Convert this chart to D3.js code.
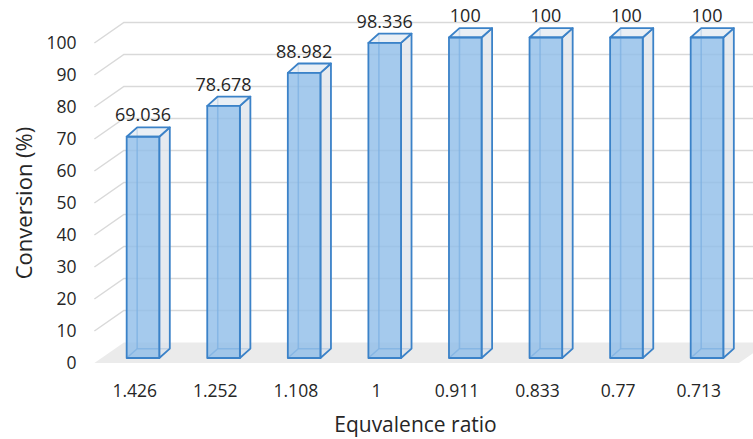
<!DOCTYPE html>
<html>
<head>
<meta charset="utf-8">
<script src="https://cdn.jsdelivr.net/npm/d3@7"></script>
<style>
  html, body { margin: 0; padding: 0; background: #ffffff; }
  svg { display: block; }
  text { font-family: "Open Sans", "Noto Sans", sans-serif; fill: #262626; }
</style>
</head>
<body>
<svg id="chart" width="753" height="439"></svg>
<script>
// Conversion versus equivalence ratio
const categories = ["1.426", "1.252", "1.108", "1", "0.911", "0.833", "0.77", "0.713"];
const conversion = [69.036, 78.678, 88.982, 98.336, 100, 100, 100, 100];
const yTicks = [0, 10, 20, 30, 40, 50, 60, 70, 80, 90, 100];

const W = 753, H = 439;
const svg = d3.select("#chart");

// Pseudo-3D layout: front plane of the floor, plus depth offsets
const floorDepth = { dx: 29.5, dy: -20.5 };   // full floor depth
const barDepth = { dx: 10.5, dy: -9.3 };      // depth of each column
const barShift = { dx: 8.3, dy: -5 };         // column front face relative to floor front
const barWidthFrac = 0.405;

const x = d3.scaleBand().domain(categories).range([94.4, 739]).padding(0);
// value scale along the front edge of the side wall (tick labels sit here)
const yFront = d3.scaleLinear().domain([0, 100]).range([363, 43]);
// value scale for the column front faces
const yBar = d3.scaleLinear().domain([0, 100]).range([yFront(0) + barShift.dy, yFront(0) + barShift.dy - 320.5]);

const gridColor = "#d9d9d9";
const floorColor = "#ebebeb";

// Floor
const fl = x.range()[0], fr = x.range()[1], fy = yFront(0);
svg.append("path")
  .attr("d", d3.line()([
    [fl, fy], [fr, fy],
    [fr + floorDepth.dx, fy + floorDepth.dy],
    [fl + floorDepth.dx, fy + floorDepth.dy]
  ]) + "Z")
  .attr("fill", floorColor);

// Gridlines: slanted on the side wall, horizontal on the back wall
const grid = svg.append("g").attr("fill", "none").attr("stroke", gridColor).attr("stroke-width", 1.5);
yTicks.filter(t => t > 0).forEach(t => {
  const yf = yFront(t);
  grid.append("path").attr("d", d3.line()([
    [fl, yf],
    [fl + floorDepth.dx, yf + floorDepth.dy],
    [W + 40, yf + floorDepth.dy]
  ]));
});

// Y tick labels
svg.append("g").selectAll("text").data(yTicks).join("text")
  .attr("x", 76.5)
  .attr("y", d => yFront(d))
  .attr("dy", "0.35em")
  .attr("text-anchor", "end")
  .style("font-size", "17.5px")
  .text(d => d);

// X tick labels, centred on each category along the floor front
svg.append("g").selectAll("text").data(categories).join("text")
  .attr("x", d => x(d) + x.bandwidth() / 2)
  .attr("y", 396.5)
  .attr("text-anchor", "middle")
  .style("font-size", "17.5px")
  .text(d => d);

// Columns
const stroke = "#3b82c8";
const data = categories.map((c, i) => ({ c, v: conversion[i] }));
const bw = x.bandwidth() * barWidthFrac;
const bars = svg.append("g");

data.forEach(d => {
  const cx = x(d.c) + x.bandwidth() / 2 + barShift.dx;
  const xl = cx - bw / 2, xr = cx + bw / 2;
  const yb = yBar(0), yt = yBar(d.v);
  const bx = barDepth.dx, by = barDepth.dy;
  const g = bars.append("g");
  const line = d3.line();

  // hidden edges seen through the translucent faces
  const back = g.append("g").attr("fill", "none").attr("stroke", stroke).attr("stroke-width", 1.6).attr("stroke-opacity", 0.75);
  back.append("path").attr("d", line([[xl + bx, yb + by], [xl + bx, yt + by]]));
  back.append("path").attr("d", line([[xl, yb], [xl + bx, yb + by], [xr + bx, yb + by]]));

  // right side face
  g.append("path")
    .attr("d", line([[xr, yb], [xr + bx, yb + by], [xr + bx, yt + by], [xr, yt]]) + "Z")
    .attr("fill", "#dde3ea").attr("fill-opacity", 0.75)
    .attr("stroke", stroke).attr("stroke-width", 1.8).attr("stroke-linejoin", "round");
  // top face
  g.append("path")
    .attr("d", line([[xl, yt], [xr, yt], [xr + bx, yt + by], [xl + bx, yt + by]]) + "Z")
    .attr("fill", "#e4ebf3").attr("fill-opacity", 0.8)
    .attr("stroke", stroke).attr("stroke-width", 1.8).attr("stroke-linejoin", "round");
  // front face
  g.append("path")
    .attr("d", line([[xl, yb], [xr, yb], [xr, yt], [xl, yt]]) + "Z")
    .attr("fill", "#8fbde9").attr("fill-opacity", 0.8)
    .attr("stroke", stroke).attr("stroke-width", 1.8).attr("stroke-linejoin", "round");

  // value label
  g.append("text")
    .attr("x", cx)
    .attr("y", yt + by - 6)
    .attr("text-anchor", "middle")
    .style("font-size", "18px")
    .text(d.v);
});

// Axis titles
svg.append("text")
  .attr("transform", `translate(32,203) rotate(-90)`)
  .attr("text-anchor", "middle")
  .style("font-size", "22px")
  .text("Conversion (%)");

svg.append("text")
  .attr("x", 415.5)
  .attr("y", 432)
  .attr("text-anchor", "middle")
  .style("font-size", "21px")
  .text("Equvalence ratio");
</script>
</body>
</html>
